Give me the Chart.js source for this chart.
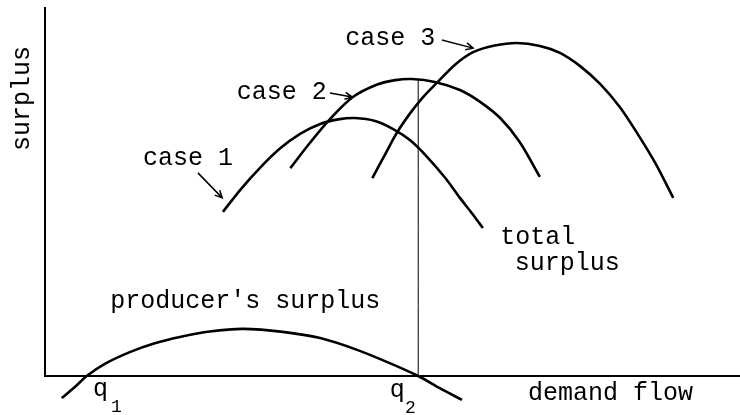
<!DOCTYPE html>
<html>
<head>
<meta charset="utf-8">
<script src="https://cdn.jsdelivr.net/npm/chart.js@4"></script>
<style>
  body { margin: 0; background: #fff; }
  canvas { display: block; }
</style>
</head>
<body>
<canvas id="surplusChart" width="740" height="415"></canvas>
<script>
// total surplus curves (x = demand flow, y = surplus)
const case1X = [25.6, 28.1, 30.9, 33.8, 36.7, 39.6, 42.4, 44.6, 47.5, 50.1, 52.5, 55.0, 57.6, 59.7, 61.4, 63.0];
const case1Y = [44.6, 50.6, 56.5, 61.8, 65.8, 68.5, 69.8, 70.1, 69.3, 67.1, 64.1, 59.5, 53.8, 48.4, 44.3, 40.2];

const case2X = [35.3, 38.1, 41.0, 44.3, 47.8, 50.4, 52.8, 56.1, 59.7, 62.6, 65.5, 68.3, 71.2];
const case2Y = [56.5, 63.3, 69.8, 75.8, 79.2, 80.4, 80.7, 79.9, 77.7, 74.5, 70.1, 63.6, 54.1];

const case3X = [47.1, 48.9, 50.6, 52.5, 54.4, 56.4, 59.0, 61.6, 64.7, 67.9, 71.2, 74.1, 77.0, 79.9, 82.7, 85.2, 87.8, 90.4];
const case3Y = [53.8, 60.1, 66.0, 71.3, 75.8, 79.7, 84.6, 88.0, 89.8, 90.5, 89.7, 87.8, 84.2, 79.3, 73.1, 66.0, 57.9, 48.4];

// producer's surplus
const producerX = [2.4, 4.3, 6.0, 8.6, 12.2, 15.8, 19.4, 23.7, 28.5, 34.2, 39.6, 44.9, 49.6, 53.7, 56.8, 60.0];
const producerY = [-6.0, -3.0, 0, 3.3, 6.5, 8.9, 10.6, 12.1, 12.8, 12.0, 10.3, 7.1, 3.5, 0, -3.3, -6.5];

// q2 marker line
const q2Value = 53.7;
const q2Top = 80.7;

// annotations (text + anchor in data units)
const noteText = ['case 1', 'case 2', 'case 3', 'total', 'surplus', "producer's surplus", 'demand flow', 'q', 'q'];
const noteX = [14.1, 27.6, 43.2, 65.5, 67.6, 9.4, 69.5, 6.9, 49.6];
const noteY = [57.3, 75.3, 89.9, 35.9, 28.8, 18.5, -6.5, -5.4, -5.7];
const subText = ['1', '2'];
const subX = [9.5, 51.8];
const subY = [-9.8, -10.1];

// arrows from labels to curves
const arrowFromX = [22.0, 41.0, 57.1];
const arrowFromY = [55.2, 76.9, 91.3];
const arrowToX = [25.5, 44.2, 61.6];
const arrowToY = [48.4, 75.8, 89.1];

const toPoints = (xs, ys) => xs.map((v, i) => ({ x: v, y: ys[i] }));

const FONT = "'Liberation Mono', 'Courier New', monospace";

// draws the labels, arrows and the rotated y-axis caption
const annotations = {
    id: 'annotations',
    afterDatasetsDraw(chart) {
        const { ctx, scales: { x, y } } = chart;
        ctx.save();
        ctx.fillStyle = '#000';
        ctx.strokeStyle = '#000';
        ctx.textBaseline = 'alphabetic';
        ctx.textAlign = 'left';

        ctx.font = '25px ' + FONT;
        noteText.forEach((t, i) => {
            ctx.fillText(t, x.getPixelForValue(noteX[i]), y.getPixelForValue(noteY[i]));
        });

        ctx.font = '18px ' + FONT;
        subText.forEach((t, i) => {
            ctx.fillText(t, x.getPixelForValue(subX[i]), y.getPixelForValue(subY[i]));
        });

        // arrows
        ctx.lineWidth = 1.5;
        arrowFromX.forEach((fx, i) => {
            const x1 = x.getPixelForValue(fx), y1 = y.getPixelForValue(arrowFromY[i]);
            const x2 = x.getPixelForValue(arrowToX[i]), y2 = y.getPixelForValue(arrowToY[i]);
            const a = Math.atan2(y2 - y1, x2 - x1);
            ctx.beginPath();
            ctx.moveTo(x1, y1);
            ctx.lineTo(x2, y2);
            ctx.moveTo(x2 - 8 * Math.cos(a - 0.45), y2 - 8 * Math.sin(a - 0.45));
            ctx.lineTo(x2, y2);
            ctx.lineTo(x2 - 8 * Math.cos(a + 0.45), y2 - 8 * Math.sin(a + 0.45));
            ctx.stroke();
        });

        // y-axis caption, reading bottom to top
        ctx.font = '25px ' + FONT;
        ctx.textAlign = 'center';
        ctx.translate(x.getPixelForValue(-2.3), y.getPixelForValue(75.4));
        ctx.rotate(-Math.PI / 2);
        ctx.fillText('surplus', 0, 0);
        ctx.restore();
    }
};

const curve = (data, width) => ({
    data: data,
    showLine: true,
    borderColor: '#000',
    borderWidth: width,
    pointRadius: 0,
    tension: 0.3,
    clip: false
});

const ctxSurplus = document.getElementById('surplusChart').getContext('2d');
const surplusChart = new Chart(ctxSurplus, {
    type: 'scatter',
    data: {
        datasets: [
            curve(toPoints(case1X, case1Y), 2.6),
            curve(toPoints(case2X, case2Y), 2.6),
            curve(toPoints(case3X, case3Y), 2.6),
            curve(toPoints(producerX, producerY), 2.6),
            curve([{ x: q2Value, y: 0 }, { x: q2Value, y: q2Top }], 1)
        ]
    },
    options: {
        responsive: false,
        animation: false,
        layout: { padding: { left: 45, top: 8, right: 0, bottom: 39 } },
        plugins: { legend: { display: false }, tooltip: { enabled: false } },
        scales: {
            x: {
                type: 'linear',
                min: 0,
                max: 100,
                grid: { display: false, drawTicks: false },
                ticks: { display: false },
                border: { display: true, color: '#000', width: 2 }
            },
            y: {
                type: 'linear',
                min: 0,
                max: 100,
                grid: { display: false, drawTicks: false },
                ticks: { display: false },
                border: { display: true, color: '#000', width: 2 }
            }
        }
    },
    plugins: [annotations]
});
</script>
</body>
</html>
